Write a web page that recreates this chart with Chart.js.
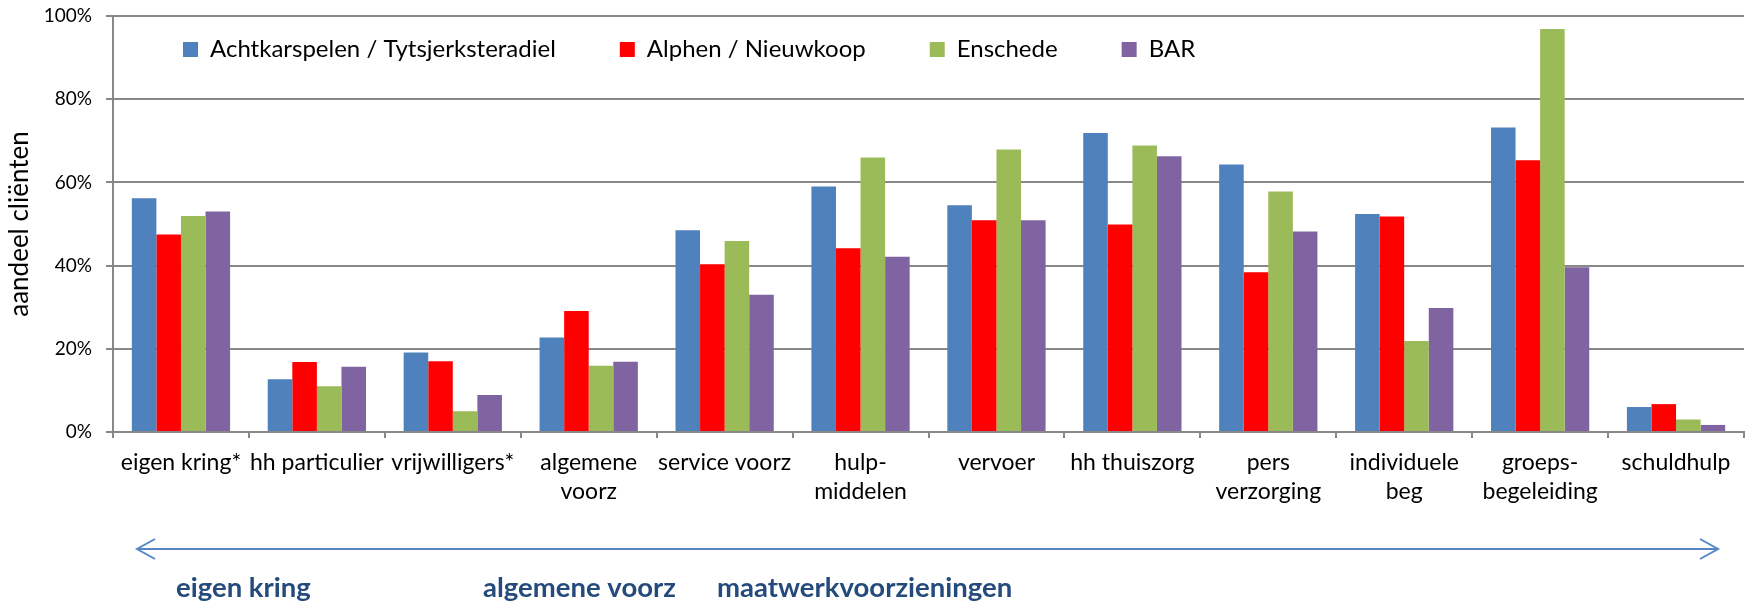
<!DOCTYPE html>
<html>
<head>
<meta charset="utf-8">
<script src="https://cdn.jsdelivr.net/npm/chart.js@4/dist/chart.umd.min.js"></script>
<style>
  html, body { margin: 0; padding: 0; background: #fff; }
</style>
</head>
<body>
<canvas id="grafiek" width="1752" height="603"></canvas>
<script>
const categorieen = [
  ['eigen kring*'], ['hh particulier'], ['vrijwilligers*'], ['algemene', 'voorz'],
  ['service voorz'], ['hulp-', 'middelen'], ['vervoer'], ['hh thuiszorg'],
  ['pers', 'verzorging'], ['individuele', 'beg'], ['groeps-', 'begeleiding'], ['schuldhulp']
]
const achtkarspelen = [56.2, 12.7, 19.1, 22.7, 48.5, 59.0, 54.5, 71.9, 64.3, 52.4, 73.2, 6.0]
const alphen = [47.5, 16.8, 17.0, 29.1, 40.3, 44.2, 50.9, 49.9, 38.4, 51.8, 65.3, 6.7]
const enschede = [51.9, 11.0, 5.0, 15.9, 45.9, 66.0, 67.9, 68.9, 57.8, 21.9, 96.9, 3.0]
const bar = [53.0, 15.7, 8.9, 16.9, 33.0, 42.1, 50.9, 66.3, 48.2, 29.8, 39.6, 1.7]
const yTicks = [0, 20, 40, 60, 80, 100]
const bandLabels = ['eigen kring', 'algemene voorz', 'maatwerkvoorzieningen']

const lettertype = 'Lato, "Open Sans", sans-serif'
const grijs = '#888888'

// legenda in het plotvlak, maar wel op één rij
const legendaVerschuiven = {
  id: 'legendaVerschuiven',
  beforeLayout(chart) {
    const lg = chart.legend
    if (lg) lg.isHorizontal = () => true
  },
  afterLayout(chart) {
    const lg = chart.legend
    const ca = chart.chartArea
    lg.left = ca.left + 6
    lg.right = ca.right
    lg.width = lg.right - lg.left
    lg.top = ca.top - 42.5
    lg.bottom = ca.top + 80
    lg.height = lg.bottom - lg.top
  }
}

// pijl en groepsnamen onder de as
const onderbalk = {
  id: 'onderbalk',
  afterDraw(chart) {
    const ctx = chart.ctx
    const ca = chart.chartArea
    const y = ca.bottom + 117
    const x1 = ca.left + 24
    const x2 = ca.right - 26
    ctx.save()
    ctx.strokeStyle = '#5687c4'
    ctx.lineWidth = 2
    ctx.beginPath()
    ctx.moveTo(x1, y)
    ctx.lineTo(x2, y)
    ctx.moveTo(x1 + 18, y - 10)
    ctx.lineTo(x1, y)
    ctx.lineTo(x1 + 18, y + 10)
    ctx.moveTo(x2 - 18, y - 10)
    ctx.lineTo(x2, y)
    ctx.lineTo(x2 - 18, y + 10)
    ctx.stroke()

    ctx.fillStyle = '#254a7c'
    ctx.font = 'bold 27.5px ' + lettertype
    ctx.textBaseline = 'alphabetic'
    ctx.textAlign = 'left'
    const xs = [ca.left + 63, ca.left + 370, ca.left + 604]
    bandLabels.forEach((t, i) => ctx.fillText(t, xs[i], ca.bottom + 165))
    ctx.restore()
  }
}

new Chart(document.getElementById('grafiek'), {
  type: 'bar',
  data: {
    labels: categorieen,
    datasets: [
      { label: 'Achtkarspelen / Tytsjerksteradiel', data: achtkarspelen, backgroundColor: '#4F81BD' },
      { label: 'Alphen / Nieuwkoop', data: alphen, backgroundColor: '#FF0000' },
      { label: 'Enschede', data: enschede, backgroundColor: '#9BBB59' },
      { label: 'BAR', data: bar, backgroundColor: '#8064A2' }
    ]
  },
  plugins: [legendaVerschuiven, onderbalk],
  options: {
    responsive: false,
    animation: false,
    devicePixelRatio: 1,
    layout: { padding: { left: 0, right: 8, top: 16, bottom: 91 } },
    datasets: {
      bar: { categoryPercentage: 0.723, barPercentage: 1.0, borderWidth: 0 }
    },
    plugins: {
      tooltip: { enabled: false },
      legend: {
        position: 'chartArea',
        align: 'start',
        labels: {
          font: { family: lettertype, size: 24 },
          color: '#000',
          boxWidth: 15,
          boxHeight: 15,
          padding: 64
        }
      }
    },
    scales: {
      x: {
        afterFit(scale) { scale.height = 80 },
        grid: { offset: true, drawOnChartArea: false, color: grijs, lineWidth: 2, tickLength: 6 },
        border: { color: grijs, width: 2 },
        ticks: {
          autoSkip: false,
          maxRotation: 0,
          padding: 10.5,
          color: '#000',
          font: { family: lettertype, size: 23, lineHeight: 1.26 }
        }
      },
      y: {
        min: 0,
        max: 100,
        afterFit(scale) {
          scale.width = 113
          scale.paddingTop = 12
          scale.paddingBottom = 12
        },
        afterBuildTicks(scale) { scale.ticks = yTicks.map(v => ({ value: v })) },
        grid: { color: grijs, lineWidth: 2, tickLength: 7 },
        border: { color: grijs, width: 2 },
        ticks: {
          padding: 14,
          color: '#000',
          font: { family: lettertype, size: 19 },
          callback: v => v + '%'
        },
        title: {
          display: true,
          text: 'aandeel cliënten',
          color: '#000',
          font: { family: lettertype, size: 26 },
          padding: { top: 4, bottom: 0 }
        }
      }
    }
  }
})
</script>
</body>
</html>
